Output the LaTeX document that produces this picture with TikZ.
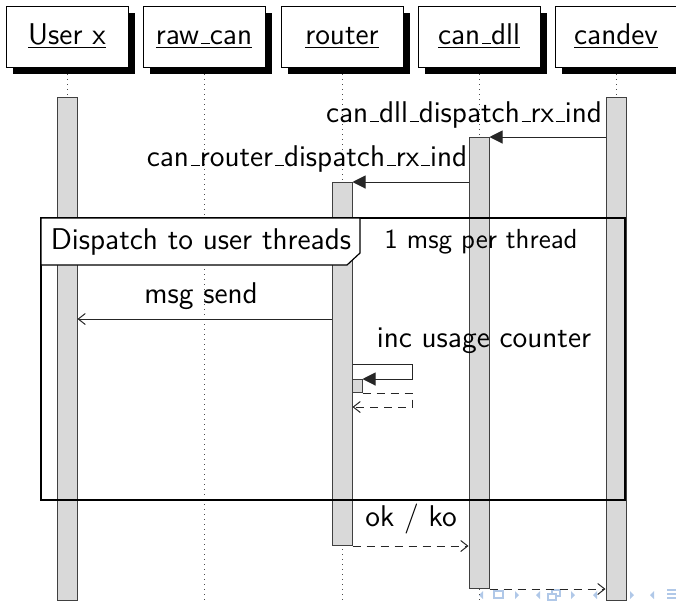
\documentclass[tikz,border=0pt]{standalone}
\usetikzlibrary{arrows.meta}
\definecolor{navc}{RGB}{176,200,232}
\newcommand\usc{\leavevmode\kern.06em\vbox{\hrule width.3em height 0.45pt}}
\begin{document}
\begin{tikzpicture}[x=0.5pt,y=-0.5pt,
  font=\fontsize{15}{18}\selectfont\sffamily,
  objbox/.style={draw=black, fill=white, line width=0.5pt, minimum width=61pt, minimum height=30.5pt, inner sep=0pt},
  objshadow/.style={fill=black, draw=none, minimum width=61pt, minimum height=30.5pt, inner sep=0pt},
  objtext/.style={anchor=base, inner sep=0pt},
  lifeline/.style={draw=black!70, line width=0.4pt, dash pattern=on 0.5pt off 2pt},
  actbar/.style={draw=black!75, fill=gray!30, line width=0.5pt, minimum width=10pt, inner sep=0pt, anchor=north},
  nestbar/.style={draw=black!75, fill=gray!30, line width=0.5pt, minimum width=5pt, inner sep=0pt, anchor=north},
  callmsg/.style={draw=black!85, line width=0.5pt, -{Triangle[length=6.5pt,width=6.5pt]}},
  asyncmsg/.style={draw=black!85, line width=0.5pt, -{Straight Barb[length=3.5pt,width=5.5pt,line width=0.5pt]}},
  retmsg/.style={asyncmsg, dash pattern=on 4pt off 3pt},
  msglabel/.style={anchor=base, inner sep=0pt},
  blockframe/.style={draw=black, line width=0.6pt},
  navsym/.style={fill=navc, draw=none}
]
\useasboundingbox (0,0) rectangle (676,602);
\begin{scope}
\clip (0,0) rectangle (676,602);

% beamer navigation symbols (partly hidden)
\fill[navsym] (479,595) -- (483,591) -- (483,599) -- cycle;
\draw[navc, line width=0.6pt] (494,591) rectangle (503,598);
\fill[navsym] (519,595) -- (515,591) -- (515,599) -- cycle;
\fill[navsym] (536,595) -- (540,591) -- (540,599) -- cycle;
\draw[navc, line width=0.6pt, fill=white] (552,590) rectangle (560,596);
\draw[navc, line width=0.6pt, fill=white] (548,594) rectangle (556,600);
\fill[navsym] (575,595) -- (571,591) -- (571,599) -- cycle;
\fill[navsym] (593,595) -- (597,591) -- (597,599) -- cycle;
\fill[navsym] (634,595) -- (630,591) -- (630,599) -- cycle;
\fill[navsym] (650,595) -- (654,591) -- (654,599) -- cycle;
\draw[navc, line width=0.8pt] (667,590) -- (676,590) (667,594) -- (676,594) (667,598) -- (676,598);

% header objects
\foreach \cx/\nm/\lbl in {67/U/{User x},204/W/{raw\usc can},342/R/{router},479/D/{can\usc dll},616/C/{candev}}{
  \node[objshadow] (sh\nm) at (\cx+6.5,43.5) {};
  \node[objbox] (o\nm) at (\cx,37) {};
  \node[objtext] (t\nm) at (\cx,44) {\underline{\lbl}};
  \draw[lifeline] (o\nm.south |- 0,74) -- (o\nm.south |- 0,602);
}

% activation bars
\node[actbar, minimum height=251.5pt] (bU) at (67,97) {};
\node[actbar, minimum height=251.5pt] (bC) at (616,97) {};
\node[actbar, minimum height=225.5pt] (bD) at (479,137) {};
\node[actbar, minimum height=181.5pt] (bR) at (342,182) {};
\node[nestbar, minimum height=6.5pt] (bN) at (357,379) {};

% combined fragment
\draw[blockframe] (41,218) rectangle (625,500);
\draw[blockframe, fill=white] (41,218) -- (360,218) -- (360,253) -- (347,265) -- (41,265) -- cycle;
\node[msglabel] (blk) at (201,249) {Dispatch to user threads};
\node[msglabel, font=\fontsize{13.8}{16}\selectfont\sffamily] (blkc) at (481,248) {1 msg per thread};

% coordinates for message levels
\coordinate (y1) at (0,137);
\coordinate (y2) at (0,182);
\coordinate (y3) at (0,319);
\coordinate (y4) at (0,364);
\coordinate (s1) at (412,379);
\coordinate (s2) at (412,407);

% messages
\draw[callmsg] (bC.west |- y1) -- (bD.north east);
\node[msglabel] (m1) at (464,122) {can\usc dll\usc dispatch\usc rx\usc ind};

\draw[callmsg] (bD.west |- y2) -- (bR.north east);
\node[msglabel] (m2) at (307,166) {can\usc router\usc dispatch\usc rx\usc ind};

\draw[asyncmsg] (bR.west |- y3) -- (bU.east |- y3);
\node[msglabel] (m3) at (201,303) {msg send};

\draw[callmsg] (bR.east |- y4) -| (s1) -- (bN.north east);
\node[msglabel] (m4) at (484,347) {inc usage counter};
\draw[retmsg] (bN.south east) -| (s2) -- (bR.east |- s2);

\draw[retmsg] (bR.south east) -- (bD.west |- bR.south);
\node[msglabel] (m5) at (411,526) {ok / ko};

\draw[retmsg] (bD.south east) -- (bC.west |- bD.south);
\end{scope}
\end{tikzpicture}
\end{document}
